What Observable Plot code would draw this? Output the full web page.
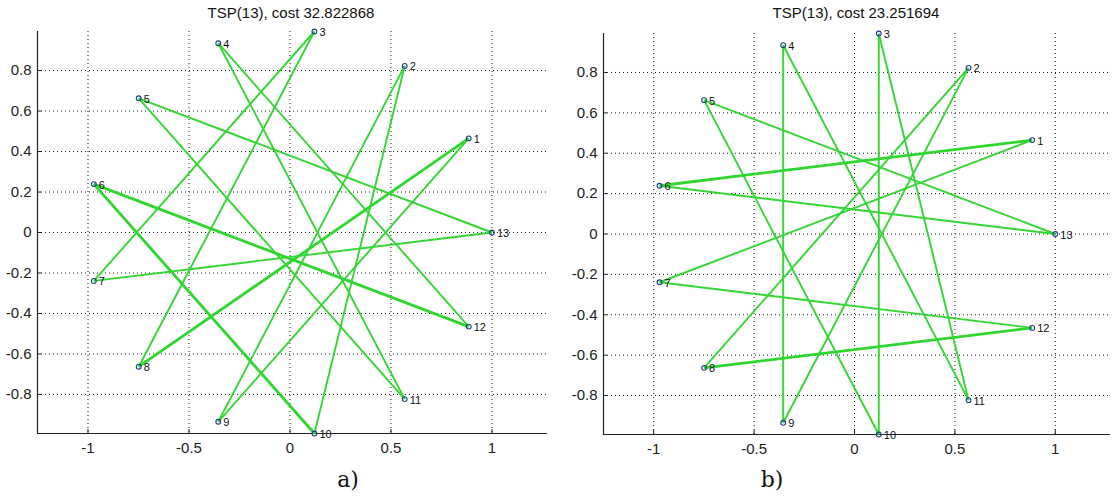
<!DOCTYPE html>
<html>
<head>
<meta charset="utf-8">
<script src="https://cdn.jsdelivr.net/npm/d3@7"></script>
<script src="https://cdn.jsdelivr.net/npm/@observablehq/plot@0.6"></script>
<style>
  html, body { margin: 0; padding: 0; background: #fff; }
  #page { position: relative; width: 1115px; height: 497px; overflow: hidden; font-family: "Liberation Sans", Arial, sans-serif; }
  .panel { position: absolute; top: 0; }
  .title { position: absolute; font-size: 15px; color: #111; white-space: nowrap; transform: translateX(-50%); }
  .caption { position: absolute; font-family: "DejaVu Serif", "Liberation Serif", serif; font-size: 22px; color: #111; transform: translate(-50%, -50%); }
</style>
</head>
<body>
<div id="page"></div>
<script>
// City ids and coordinates (13 cities on the unit circle)
const cityId = [1, 2, 3, 4, 5, 6, 7, 8, 9, 10, 11, 12, 13];
const cityX = [0.885, 0.568, 0.121, -0.355, -0.749, -0.971, -0.971, -0.749, -0.355, 0.121, 0.568, 0.885, 1.000];
const cityY = [0.465, 0.823, 0.993, 0.935, 0.663, 0.239, -0.239, -0.663, -0.935, -0.993, -0.823, -0.465, 0.000];

// Visiting order of the two tours
const tourA = [1, 8, 3, 7, 13, 5, 11, 4, 12, 6, 10, 2, 9];
const tourB = [1, 6, 13, 5, 10, 3, 11, 4, 9, 2, 8, 12, 7];
const costA = "32.822868";
const costB = "23.251694";
const captions = ["a)", "b)"];

// Axis ticks
const xTicks = [-1, -0.5, 0, 0.5, 1];
const yTicks = [-0.8, -0.6, -0.4, -0.2, 0, 0.2, 0.4, 0.6, 0.8];
const xDomain = [-1.25, 1.275];
const yDomain = [-0.993, 0.993];

// Edges drawn with a heavier stroke
const heavyA = [[1, 8], [6, 12], [6, 10]];
const heavyB = [[1, 6], [8, 12]];

const cities = cityId.map((id, i) => ({id, x: cityX[i], y: cityY[i]}));
const byId = new Map(cities.map(c => [c.id, c]));

function edgesOf(tour, heavy) {
  const isHeavy = (a, b) => heavy.some(([p, q]) => (p === a && q === b) || (p === b && q === a));
  return tour.map((a, i) => {
    const b = tour[(i + 1) % tour.length];
    const A = byId.get(a), B = byId.get(b);
    return {x1: A.x, y1: A.y, x2: B.x, y2: B.y, heavy: isHeavy(a, b)};
  });
}

const fmt = d => String(d);

function panel({tour, heavy, width, marginLeft, marginRight, marginTop, marginBottom}) {
  const edges = edgesOf(tour, heavy);
  return Plot.plot({
    width, height: 497,
    marginLeft, marginRight, marginTop, marginBottom,
    style: {fontFamily: "'Liberation Sans', Arial, sans-serif", background: "transparent", overflow: "visible"},
    x: {domain: xDomain},
    y: {domain: yDomain},
    marks: [
      Plot.gridX(xTicks, {stroke: "#000", strokeOpacity: 0.9, strokeDasharray: "1,3", strokeWidth: 1}),
      Plot.gridY(yTicks, {stroke: "#000", strokeOpacity: 0.9, strokeDasharray: "1,3", strokeWidth: 1}),
      Plot.ruleX([xDomain[0]], {stroke: "#222", strokeWidth: 1.2}),
      Plot.ruleY([yDomain[0]], {stroke: "#222", strokeWidth: 1.2}),
      Plot.ruleX(xTicks, {y1: yDomain[0], y2: yDomain[0], insetTop: -4, stroke: "#222"}),
      Plot.ruleY(yTicks, {x1: xDomain[0], x2: xDomain[0], insetRight: -4, stroke: "#222"}),
      Plot.axisX(xTicks, {tickSize: 0, tickPadding: 9, tickFormat: fmt, fontSize: 15, label: null, color: "#222"}),
      Plot.axisY(yTicks, {tickSize: 0, tickPadding: 6, tickFormat: fmt, fontSize: 15, label: null, color: "#222"}),
      Plot.link(edges.filter(e => !e.heavy), {x1: "x1", y1: "y1", x2: "x2", y2: "y2", stroke: "#33d633", strokeWidth: 1.9}),
      Plot.link(edges.filter(e => e.heavy), {x1: "x1", y1: "y1", x2: "x2", y2: "y2", stroke: "#2fd62f", strokeWidth: 2.8}),
      Plot.dot(cities, {x: "x", y: "y", r: 2.4, stroke: "#1d3d8f", fill: "none", strokeWidth: 1.1}),
      Plot.text(cities, {x: "x", y: "y", text: d => String(d.id), dx: 5, dy: 1, textAnchor: "start", fontSize: 11, fill: "#111"})
    ]
  });
}

const page = document.getElementById("page");

function addPanel(left, opts, title, titleX, caption, captionX) {
  const div = document.createElement("div");
  div.className = "panel";
  div.style.left = left + "px";
  div.appendChild(panel(opts));
  page.appendChild(div);
  const t = document.createElement("div");
  t.className = "title";
  t.style.left = titleX + "px";
  t.style.top = "4px";
  t.textContent = title;
  page.appendChild(t);
  const c = document.createElement("div");
  c.className = "caption";
  c.style.left = captionX + "px";
  c.style.top = "479px";
  c.textContent = caption;
  page.appendChild(c);
}

addPanel(0, {tour: tourA, heavy: heavyA, width: 555, marginLeft: 37, marginRight: 8, marginTop: 31, marginBottom: 64},
  `TSP(${tourA.length}), cost ${costA}`, 291, captions[0], 348);
addPanel(555, {tour: tourB, heavy: heavyB, width: 560, marginLeft: 48, marginRight: 5, marginTop: 33, marginBottom: 63},
  `TSP(${tourB.length}), cost ${costB}`, 856, captions[1], 772);
</script>
</body>
</html>
